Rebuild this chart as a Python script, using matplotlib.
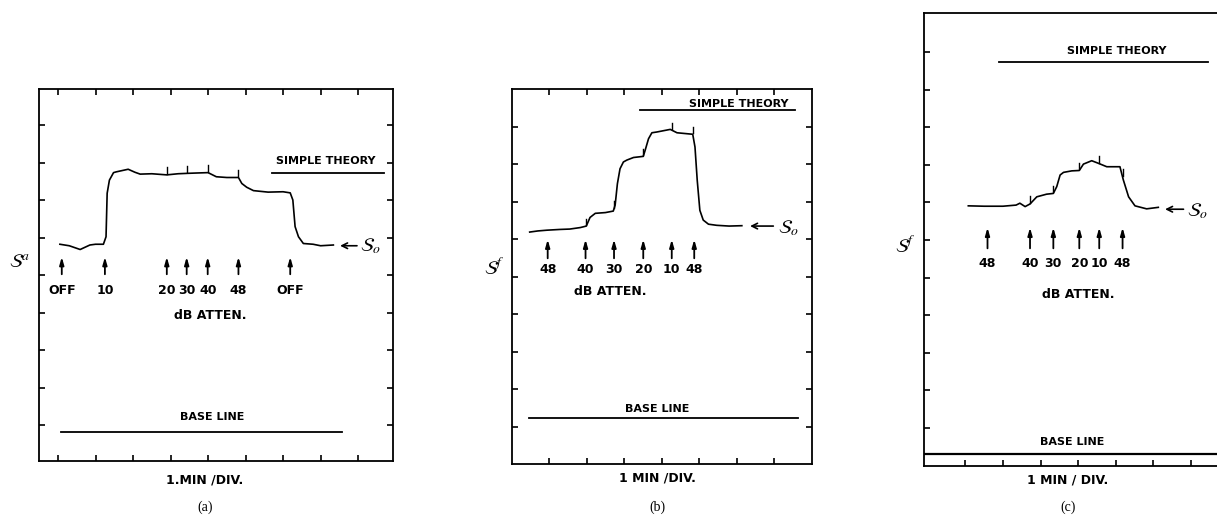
import matplotlib
matplotlib.use("Agg")
import matplotlib.pyplot as plt
import numpy as np

plt.rcParams['font.family'] = ['DejaVu Sans']
plt.rcParams['mathtext.fontset'] = 'stix'

# ---------------- data ----------------
# Panel (a)
a_x = [0.05, 0.3, 0.59, 0.85, 1.0, 1.21, 1.28, 1.31, 1.37, 1.48, 1.55, 1.87, 2.05, 2.19,
       2.5, 2.9, 3.2, 3.43, 3.7, 4.0, 4.22, 4.5, 4.81, 4.90, 5.03, 5.21, 5.6, 6.0, 6.19,
       6.26, 6.32, 6.41, 6.54, 6.8, 7.0, 7.34]
a_y = [5.82, 5.78, 5.68, 5.80, 5.82, 5.82, 6.02, 7.18, 7.53, 7.73, 7.75, 7.82, 7.74, 7.69,
       7.70, 7.67, 7.70, 7.71, 7.72, 7.73, 7.62, 7.60, 7.60, 7.44, 7.34, 7.25, 7.21, 7.22, 7.19,
       7.00, 6.29, 6.02, 5.84, 5.82, 5.78, 5.80]
a_arrows = [0.10, 1.25, 2.90, 3.43, 3.99, 4.81, 6.19]
a_labels = ['OFF', '10', '20', '30', '40', '48', 'OFF']
a_marks = [2.90, 3.43, 3.99, 4.81]
a_theory = 7.71
a_base = 0.82
a_s0 = 5.78

# Panel (b)
b_x = [-0.52, -0.3, -0.06, 0.29, 0.55, 0.83, 0.99, 1.09, 1.23, 1.5, 1.71, 1.76, 1.82, 1.89,
       1.98, 2.07, 2.25, 2.51, 2.56, 2.65, 2.74, 2.87, 3.23, 3.41, 3.83, 3.89, 3.95, 4.02,
       4.11, 4.25, 4.47, 4.8, 5.14]
b_y = [6.19, 6.22, 6.24, 6.26, 6.27, 6.31, 6.35, 6.58, 6.69, 6.71, 6.75, 6.91, 7.48, 7.88,
       8.06, 8.11, 8.18, 8.21, 8.37, 8.68, 8.84, 8.86, 8.93, 8.84, 8.80, 8.46, 7.57, 6.77,
       6.51, 6.40, 6.37, 6.35, 6.36]
b_arrows = [-0.04, 0.97, 1.73, 2.51, 3.27, 3.87]
b_labels = ['48', '40', '30', '20', '10', '48']
b_marks = [0.97, 1.73, 2.51, 3.27, 3.83]
b_theory = 9.44
b_base = 1.22
b_s0 = 6.35

# Panel (c)
c_x = [0.08, 0.5, 1.0, 1.35, 1.45, 1.59, 1.72, 1.90, 2.16, 2.34, 2.43, 2.52, 2.61, 2.83,
       3.03, 3.14, 3.36, 3.54, 3.76, 4.11, 4.20, 4.34, 4.51, 4.82, 5.13]
c_y = [6.91, 6.90, 6.90, 6.93, 6.98, 6.89, 6.96, 7.15, 7.22, 7.24, 7.42, 7.73, 7.80, 7.84,
       7.85, 8.02, 8.11, 8.04, 7.95, 7.95, 7.60, 7.15, 6.91, 6.83, 6.87]
c_arrows = [0.59, 1.72, 2.34, 3.03, 3.56, 4.18]
c_labels = ['48', '40', '30', '20', '10', '48']
c_marks = [1.72, 2.34, 3.03, 3.56, 4.18]
c_theory = 10.74
c_base = 0.31
c_s0 = 6.82

W, H = 1217, 517
fig = plt.figure(figsize=(W / 100, H / 100), dpi=100)


def px_axes(l, r, t, b):
    return fig.add_axes([l / W, 1 - b / H, (r - l) / W, (b - t) / H])


LW = 1.2
TXT = dict(fontsize=8, fontweight='bold', color='black')
LBL = dict(fontsize=9, fontweight='bold', color='black')


def style(ax, xlim, ylim, xt, yt, four=True):
    ax.set_xlim(*xlim)
    ax.set_ylim(*ylim)
    ax.set_xticks(xt)
    ax.set_yticks(yt)
    ax.set_xticklabels([])
    ax.set_yticklabels([])
    ax.tick_params(direction='in', length=4, width=1.2, top=four, right=four,
                   bottom=True, left=True)
    for s in ax.spines.values():
        s.set_linewidth(1.3)


def draw(ax, x, y, arrows, labels, marks, ah, at, ly):
    ax.plot(x, y, color='black', lw=LW)
    for m in marks:
        yv = np.interp(m, x, y)
        ax.plot([m, m], [yv + 0.03, yv + 0.2], color='black', lw=1.0)
    for xa, lab in zip(arrows, labels):
        ax.annotate('', xy=(xa, ah), xytext=(xa, at),
                    arrowprops=dict(arrowstyle='-|>,head_length=0.45,head_width=0.13',
                                    color='black', lw=1.3, shrinkA=0, shrinkB=0))
        ax.text(xa, ly, lab, ha='center', va='center', **LBL)


# ---- (a) ----
axa = px_axes(39, 393, 89, 461)
style(axa, (-0.507, 8.93), (0.04, 9.96), range(0, 9), range(1, 10))
draw(axa, a_x, a_y, a_arrows, a_labels, a_marks, 5.48, 5.02, 4.6)
axa.text(4.05, 3.93, 'dB ATTEN.', ha='center', va='center', **LBL)
axa.text(7.15, 8.04, 'SIMPLE THEORY', ha='center', va='center', **TXT)
axa.plot([5.70, 8.68], [a_theory, a_theory], color='black', lw=1.3)
axa.text(4.10, 1.2, 'BASE LINE', ha='center', va='center', **TXT)
axa.plot([0.07, 7.56], [a_base, a_base], color='black', lw=1.3)
axa.annotate('', xy=(7.52, a_s0), xytext=(7.97, a_s0),
             arrowprops=dict(arrowstyle='->,head_length=0.4,head_width=0.2', color='black', lw=1.2,
                             shrinkA=0, shrinkB=0))
axa.text(8.05, a_s0, r'$\mathcal{S}_o$', ha='left', va='center', fontsize=14)
fig.text(20 / W, 1 - 262 / H, r'$\mathcal{S}^a$', ha='center', va='center', fontsize=14)
fig.text(205 / W, 1 - 480 / H, '1.MIN /DIV.', ha='center', va='center', **LBL)
fig.text(205 / W, 1 - 507 / H, '(a)', ha='center', va='center', fontsize=10,
         family='Liberation Serif')

# ---- (b) ----
axb = px_axes(511.7, 812.3, 89.3, 464)
style(axb, (-1.0, 7.02), (0, 10), range(0, 7), range(1, 10))
draw(axb, b_x, b_y, b_arrows, b_labels, b_marks, 5.99, 5.49, 5.2)
axb.text(1.63, 4.6, 'dB ATTEN.', ha='center', va='center', **LBL)
axb.text(5.05, 9.62, 'SIMPLE THEORY', ha='center', va='center', **TXT)
axb.plot([2.41, 6.56], [b_theory, b_theory], color='black', lw=1.3)
axb.text(2.87, 1.46, 'BASE LINE', ha='center', va='center', **TXT)
axb.plot([-0.55, 6.65], [b_base, b_base], color='black', lw=1.3)
axb.annotate('', xy=(5.36, b_s0), xytext=(5.98, b_s0),
             arrowprops=dict(arrowstyle='->,head_length=0.4,head_width=0.2', color='black', lw=1.2,
                             shrinkA=0, shrinkB=0))
axb.text(6.1, b_s0 - 0.05, r'$\mathcal{S}_o$', ha='left', va='center', fontsize=14)
fig.text(494 / W, 1 - 268 / H, r'$\mathcal{S}^f$', ha='center', va='center', fontsize=14)
fig.text(657 / W, 1 - 478 / H, '1 MIN /DIV.', ha='center', va='center', **LBL)
fig.text(657 / W, 1 - 507 / H, '(b)', ha='center', va='center', fontsize=10,
         family='Liberation Serif')

# ---- (c) ----
axc = px_axes(924.3, 1217, 13.3, 465.7)
style(axc, (-1.09, 6.69), (0, 12.03), range(0, 7), range(1, 12), four=False)
axc.spines['right'].set_visible(False)
draw(axc, c_x, c_y, c_arrows, c_labels, c_marks, 6.33, 5.78, 5.38)
axc.text(3.0, 4.54, 'dB ATTEN.', ha='center', va='center', **LBL)
axc.text(4.03, 11.04, 'SIMPLE THEORY', ha='center', va='center', **TXT)
axc.plot([0.90, 6.46], [c_theory, c_theory], color='black', lw=1.3)
axc.text(2.83, 0.63, 'BASE LINE', ha='center', va='center', **TXT)
axc.plot([-1.09, 6.69], [c_base, c_base], color='black', lw=1.6)
axc.annotate('', xy=(5.31, c_s0), xytext=(5.80, c_s0),
             arrowprops=dict(arrowstyle='->,head_length=0.4,head_width=0.2', color='black', lw=1.2,
                             shrinkA=0, shrinkB=0))
axc.text(5.9, c_s0 - 0.05, r'$\mathcal{S}_o$', ha='left', va='center', fontsize=14)
fig.text(905 / W, 1 - 245 / H, r'$\mathcal{S}^f$', ha='center', va='center', fontsize=14)
fig.text(1068 / W, 1 - 480 / H, '1 MIN / DIV.', ha='center', va='center', **LBL)
fig.text(1068 / W, 1 - 507 / H, '(c)', ha='center', va='center', fontsize=10,
         family='Liberation Serif')

fig.savefig('out.png', dpi=100)
